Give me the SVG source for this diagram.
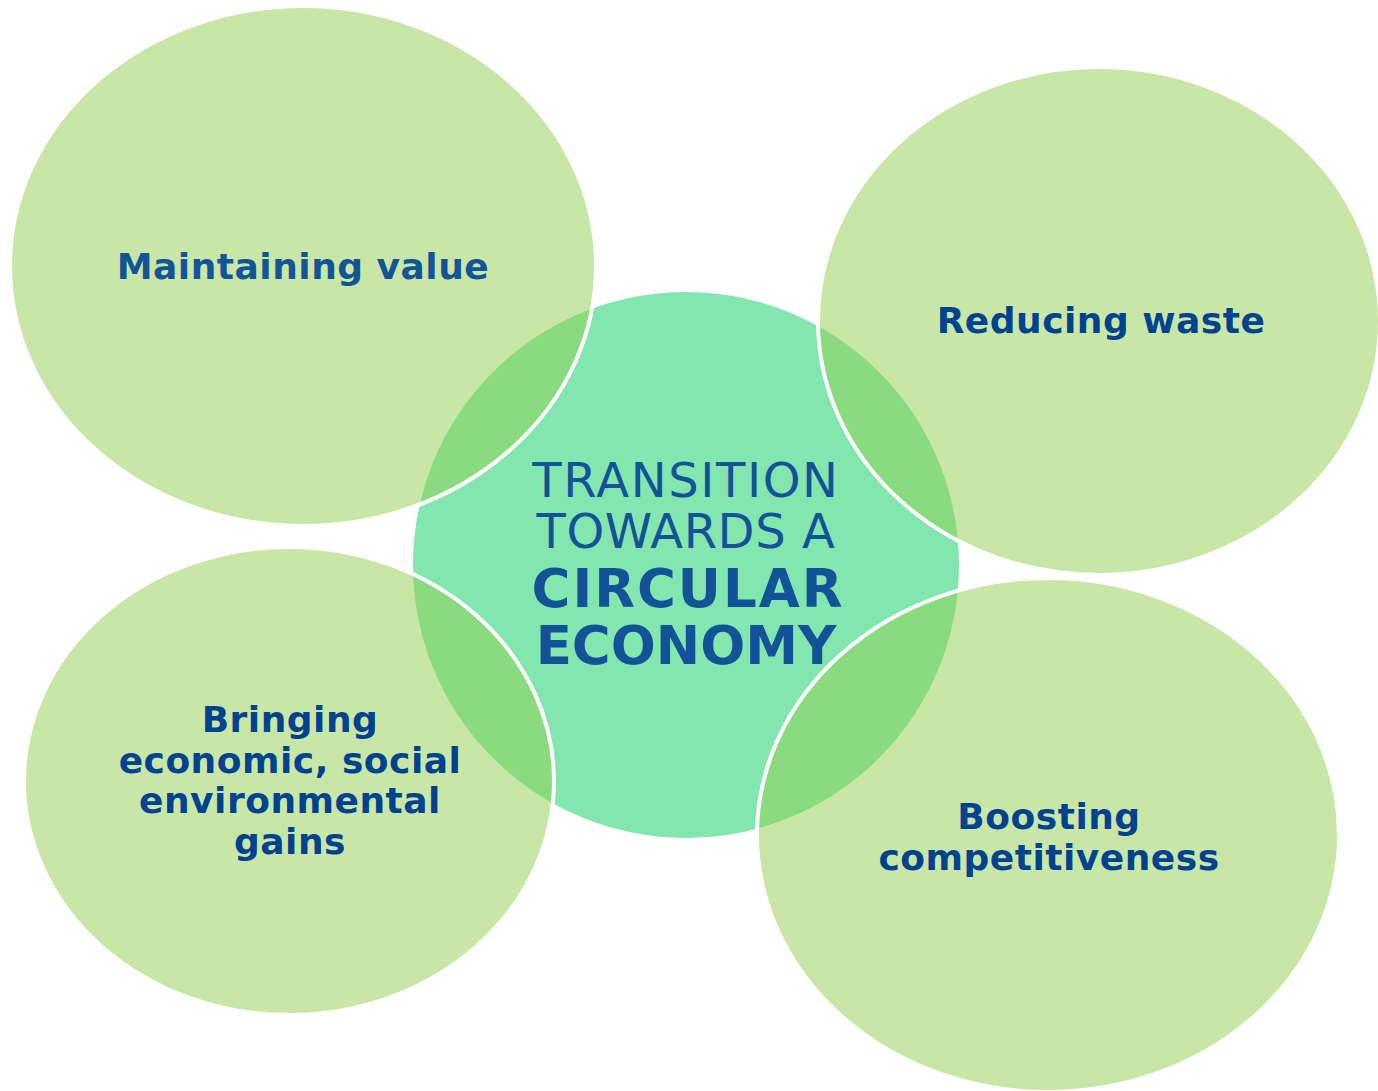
<svg xmlns="http://www.w3.org/2000/svg" width="1378" height="1091" viewBox="0 0 1378 1091">
<style>
.outer{fill:#92D050;fill-opacity:0.5;stroke:#FFFFFF;stroke-width:4}
.lbl{font-family:"DejaVu Sans",Verdana,sans-serif;font-weight:bold;font-size:36px;letter-spacing:0.5px;fill:#00428F;text-anchor:middle}
.ctr{font-family:"DejaVu Sans",Verdana,sans-serif;fill:#125397;text-anchor:middle}
</style>
<rect width="1378" height="1091" fill="#FFFFFF"/>
<g id="center">
<ellipse cx="686" cy="565" rx="275" ry="275" fill="#82E6AE" stroke="#FFFFFF" stroke-width="4"/>
</g>
<g id="maintaining">
<ellipse class="outer" cx="303" cy="266" rx="293" ry="260"/>
</g>
<g id="reducing">
<ellipse class="outer" cx="1099" cy="321" rx="281" ry="254"/>
</g>
<g id="bringing">
<ellipse class="outer" cx="289" cy="781" rx="265" ry="234"/>
</g>
<g id="boosting">
<ellipse class="outer" cx="1048" cy="835" rx="291" ry="257"/>
</g>
<g id="labels">
<text class="lbl" x="303" y="279" style="fill:#135497">Maintaining value</text>
<text class="lbl" x="1101" y="333">Reducing waste</text>
<text class="lbl" x="290" y="732">Bringing</text>
<text class="lbl" x="290" y="773">economic, social</text>
<text class="lbl" x="290" y="813">environmental</text>
<text class="lbl" x="290" y="854">gains</text>
<text class="lbl" x="1049" y="829">Boosting</text>
<text class="lbl" x="1049" y="870">competitiveness</text>
<text class="ctr" x="686" y="497" font-size="48" letter-spacing="1.6">TRANSITION</text>
<text class="ctr" x="686" y="548" font-size="48" letter-spacing="0.6">TOWARDS A</text>
<text class="ctr" x="688" y="607" font-size="53" font-weight="bold" letter-spacing="2">CIRCULAR</text>
<text class="ctr" x="686" y="664" font-size="53" font-weight="bold">ECONOMY</text>
</g>
<g id="connectors"/>
</svg>
